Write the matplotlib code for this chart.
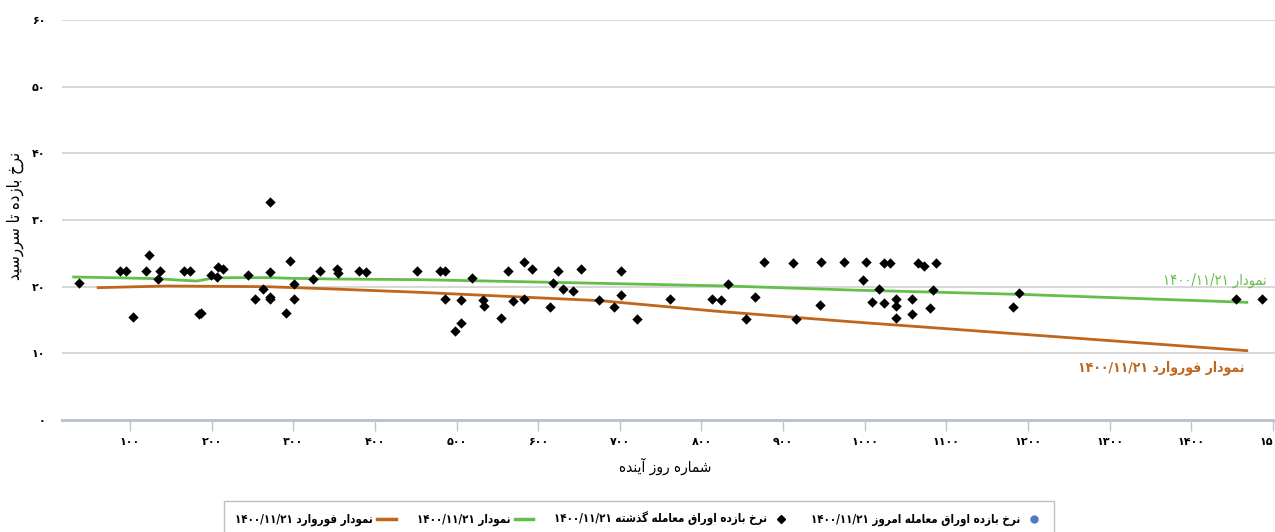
import matplotlib
matplotlib.use("Agg")
import matplotlib.pyplot as plt
from matplotlib.lines import Line2D
from matplotlib import font_manager as fm

# ---------------- data ----------------
past_x = [37, 88, 95, 104, 119, 123, 134, 137, 166, 174, 185, 187, 199, 206, 208, 214,
          245, 253, 263, 271, 271, 271, 272, 291, 296, 301, 301, 324, 333, 353, 355, 380,
          389, 452, 480, 486, 486, 498, 506, 506, 519, 532, 534, 555, 563, 569, 582, 582,
          592, 614, 618, 624, 630, 643, 653, 675, 693, 702, 702, 721, 762, 813, 824, 832,
          855, 865, 877, 912, 916, 945, 946, 975, 998, 1002, 1009, 1017, 1024, 1024, 1031,
          1038, 1038, 1038, 1058, 1058, 1065, 1073, 1080, 1084, 1087, 1181, 1189, 1455, 1486]
past_y = [20.6, 22.4, 22.4, 15.5, 22.4, 24.8, 21.1, 22.3, 22.3, 22.4, 15.9, 16.1, 21.8, 21.4, 22.9, 22.6,
          21.8, 18.1, 19.7, 32.7, 22.2, 18.1, 18.4, 16.1, 23.9, 20.4, 18.1, 21.2, 22.3, 22.6, 22.1, 22.4,
          22.2, 22.4, 22.4, 22.4, 18.1, 13.4, 18.0, 14.6, 21.3, 18.0, 17.1, 15.3, 22.4, 17.9, 23.7, 18.1,
          22.6, 17.0, 20.6, 22.4, 19.7, 19.4, 22.6, 18.0, 17.0, 22.4, 18.7, 15.1, 18.2, 18.1, 18.0, 20.4,
          15.1, 18.4, 23.7, 23.5, 15.1, 17.3, 23.7, 23.7, 21.0, 23.7, 17.7, 19.6, 17.5, 23.6, 23.6,
          18.2, 17.1, 15.3, 18.2, 15.9, 23.6, 23.1, 16.8, 19.5, 23.5, 16.9, 19.0, 18.2, 18.1]

today_x = []
today_y = []

curve_x = [31, 75, 133, 165, 182, 202, 227, 271, 300, 349, 455, 618, 832, 982, 1189, 1468]
curve_y = [21.45, 21.35, 21.2, 20.95, 20.85, 21.3, 21.35, 21.35, 21.25, 21.15, 21.05, 20.65,
           20.1, 19.5, 18.85, 17.65]

fwd_x = [61, 145, 267, 349, 455, 676, 820, 982, 1468]
fwd_y = [19.85, 20.1, 20.0, 19.65, 19.15, 17.9, 16.3, 14.75, 10.4]

x_ticks = [100, 200, 300, 400, 500, 600, 700, 800, 900, 1000, 1100, 1200, 1300, 1400, 1500]
y_ticks = [0, 10, 20, 30, 40, 50, 60]

y_title = "نرخ بازده تا سررسید"
x_title = "شماره روز آینده"
lbl_today = "نرخ بازده اوراق معامله امروز ۱۴۰۰/۱۱/۲۱"
lbl_past = "نرخ بازده اوراق معامله گذشته ۱۴۰۰/۱۱/۲۱"
lbl_curve = "نمودار ۱۴۰۰/۱۱/۲۱"
lbl_fwd = "نمودار فوروارد ۱۴۰۰/۱۱/۲۱"

# ---------------- Arabic/Persian shaping helper ----------------
FORMS = {
    'ا': (0xFE8D, 0xFE8E, None, None),
    'آ': (0xFE81, 0xFE82, None, None),
    'ب': (0xFE8F, 0xFE90, 0xFE91, 0xFE92),
    'ت': (0xFE95, 0xFE96, 0xFE97, 0xFE98),
    'خ': (0xFEA5, 0xFEA6, 0xFEA7, 0xFEA8),
    'د': (0xFEA9, 0xFEAA, None, None),
    'ذ': (0xFEAB, 0xFEAC, None, None),
    'ر': (0xFEAD, 0xFEAE, None, None),
    'ز': (0xFEAF, 0xFEB0, None, None),
    'س': (0xFEB1, 0xFEB2, 0xFEB3, 0xFEB4),
    'ش': (0xFEB5, 0xFEB6, 0xFEB7, 0xFEB8),
    'ع': (0xFEC9, 0xFECA, 0xFECB, 0xFECC),
    'ف': (0xFED1, 0xFED2, 0xFED3, 0xFED4),
    'ق': (0xFED5, 0xFED6, 0xFED7, 0xFED8),
    'ل': (0xFEDD, 0xFEDE, 0xFEDF, 0xFEE0),
    'م': (0xFEE1, 0xFEE2, 0xFEE3, 0xFEE4),
    'ن': (0xFEE5, 0xFEE6, 0xFEE7, 0xFEE8),
    'ه': (0xFEE9, 0xFEEA, 0xFEEB, 0xFEEC),
    'و': (0xFEED, 0xFEEE, None, None),
    'ی': (0xFBFC, 0xFBFD, 0xFBFE, 0xFBFF),
    'گ': (0xFB92, 0xFB93, 0xFB94, 0xFB95),
}


def _dual(c):
    return c in FORMS and FORMS[c][2] is not None


def _shape_word(s):
    out = []
    for i, c in enumerate(s):
        if c not in FORMS:
            out.append(c)
            continue
        prev = s[i - 1] if i > 0 else ''
        nxt = s[i + 1] if i + 1 < len(s) else ''
        jp = _dual(prev)
        jn = _dual(c) and nxt in FORMS
        iso, fin, ini, med = FORMS[c]
        if jp and jn:
            code = med
        elif jp:
            code = fin
        elif jn:
            code = ini
        else:
            code = iso
        out.append(chr(code))
    return ''.join(out)


def rtl(text):
    ltr_chars = set('۰۱۲۳۴۵۶۷۸۹0123456789/.')
    runs = []
    cur = ''
    cur_ltr = None
    for c in text:
        is_ltr = c in ltr_chars
        if cur_ltr is None or is_ltr == cur_ltr:
            cur += c
        else:
            runs.append((cur, cur_ltr))
            cur = c
        cur_ltr = is_ltr
    if cur:
        runs.append((cur, cur_ltr))
    vis = []
    for r, is_ltr in reversed(runs):
        if is_ltr:
            vis.append(r)
        else:
            vis.append(_shape_word(r)[::-1])
    return ''.join(vis)


def fa_num(n):
    return ''.join('۰۱۲۳۴۵۶۷۸۹'[int(d)] for d in str(n))


# ---------------- fonts ----------------
plt.rcParams['font.family'] = ['DejaVu Sans']
names = {f.name for f in fm.fontManager.ttflist}
COND = ['DejaVu Sans Condensed', 'DejaVu Sans'] if 'DejaVu Sans Condensed' in names else ['DejaVu Sans']
STRETCH = 'condensed'

GREEN = '#62c04a'
ORANGE = '#c0651c'
BLUE = '#4a7ac0'
AXCOL = '#bcc3d6'

fig = plt.figure(figsize=(12.75, 5.32), dpi=100)
ax = fig.add_axes([62 / 1275, 1 - 420 / 532, 1 - 62 / 1275, 400 / 532])
ax.set_xlim(16.7, 1502.5)
ax.set_ylim(0, 60)

for sp in ['top', 'right', 'left']:
    ax.spines[sp].set_visible(False)
ax.spines['bottom'].set_color(AXCOL)
ax.spines['bottom'].set_linewidth(2.2)

ax.set_yticks(y_ticks)
ax.set_yticklabels([fa_num(v) for v in y_ticks], fontsize=8, fontweight='bold')
ax.tick_params(axis='y', length=0, pad=12)
ax.set_xticks(x_ticks)
ax.set_xticklabels([fa_num(v) for v in x_ticks], fontsize=8, fontweight='bold')
ax.tick_params(axis='x', length=8, width=1.0, color=AXCOL, pad=4)
ax.yaxis.grid(True, color='#d4d4d4', linewidth=1.3)
ax.set_axisbelow(True)

ax.plot(curve_x, curve_y, color=GREEN, lw=2.0, zorder=3)
ax.plot(fwd_x, fwd_y, color=ORANGE, lw=2.0, zorder=3)
ax.scatter(past_x, past_y, marker='D', s=28, color='black', zorder=4, linewidths=0)
ax.scatter(today_x, today_y, marker='o', s=22, color=BLUE, zorder=5)

ax.text(1492, 20.9, rtl(lbl_curve), color=GREEN, fontsize=10.5, ha='right', va='center',
        family=COND, fontstretch=STRETCH)
ax.text(1465, 7.9, rtl(lbl_fwd), color=ORANGE, fontsize=10, ha='right', va='center',
        fontweight='bold', family=COND, fontstretch=STRETCH)

ax.set_ylabel(rtl(y_title), fontsize=12, family=COND, fontstretch=STRETCH)
ax.yaxis.set_label_coords(-38 / 1213, 0.51)
fig.text(665 / 1275, 1 - 466 / 532, rtl(x_title), ha='center', va='center', fontsize=11,
         family=COND, fontstretch=STRETCH)

handles = [
    Line2D([], [], color=ORANGE, lw=2.5),
    Line2D([], [], color=GREEN, lw=2.5),
    Line2D([], [], color='black', marker='D', ls='none', markersize=4),
    Line2D([], [], color=BLUE, marker='o', ls='none', markersize=5),
]
labels = [rtl(lbl_fwd), rtl(lbl_curve), rtl(lbl_past), rtl(lbl_today)]
leg = fig.legend(handles, labels, loc='upper center', bbox_to_anchor=(639 / 1275, 1 - 495 / 532),
                 ncol=4, markerfirst=False, frameon=True, fancybox=False, handlelength=1.6,
                 columnspacing=1.8, handletextpad=0.4, borderpad=0.95,
                 prop=fm.FontProperties(family=COND, size=8.3, weight='bold', stretch=STRETCH))
leg.get_frame().set_edgecolor('#b0b0b0')
leg.get_frame().set_linewidth(1.0)

fig.savefig('out.png', dpi=100)
